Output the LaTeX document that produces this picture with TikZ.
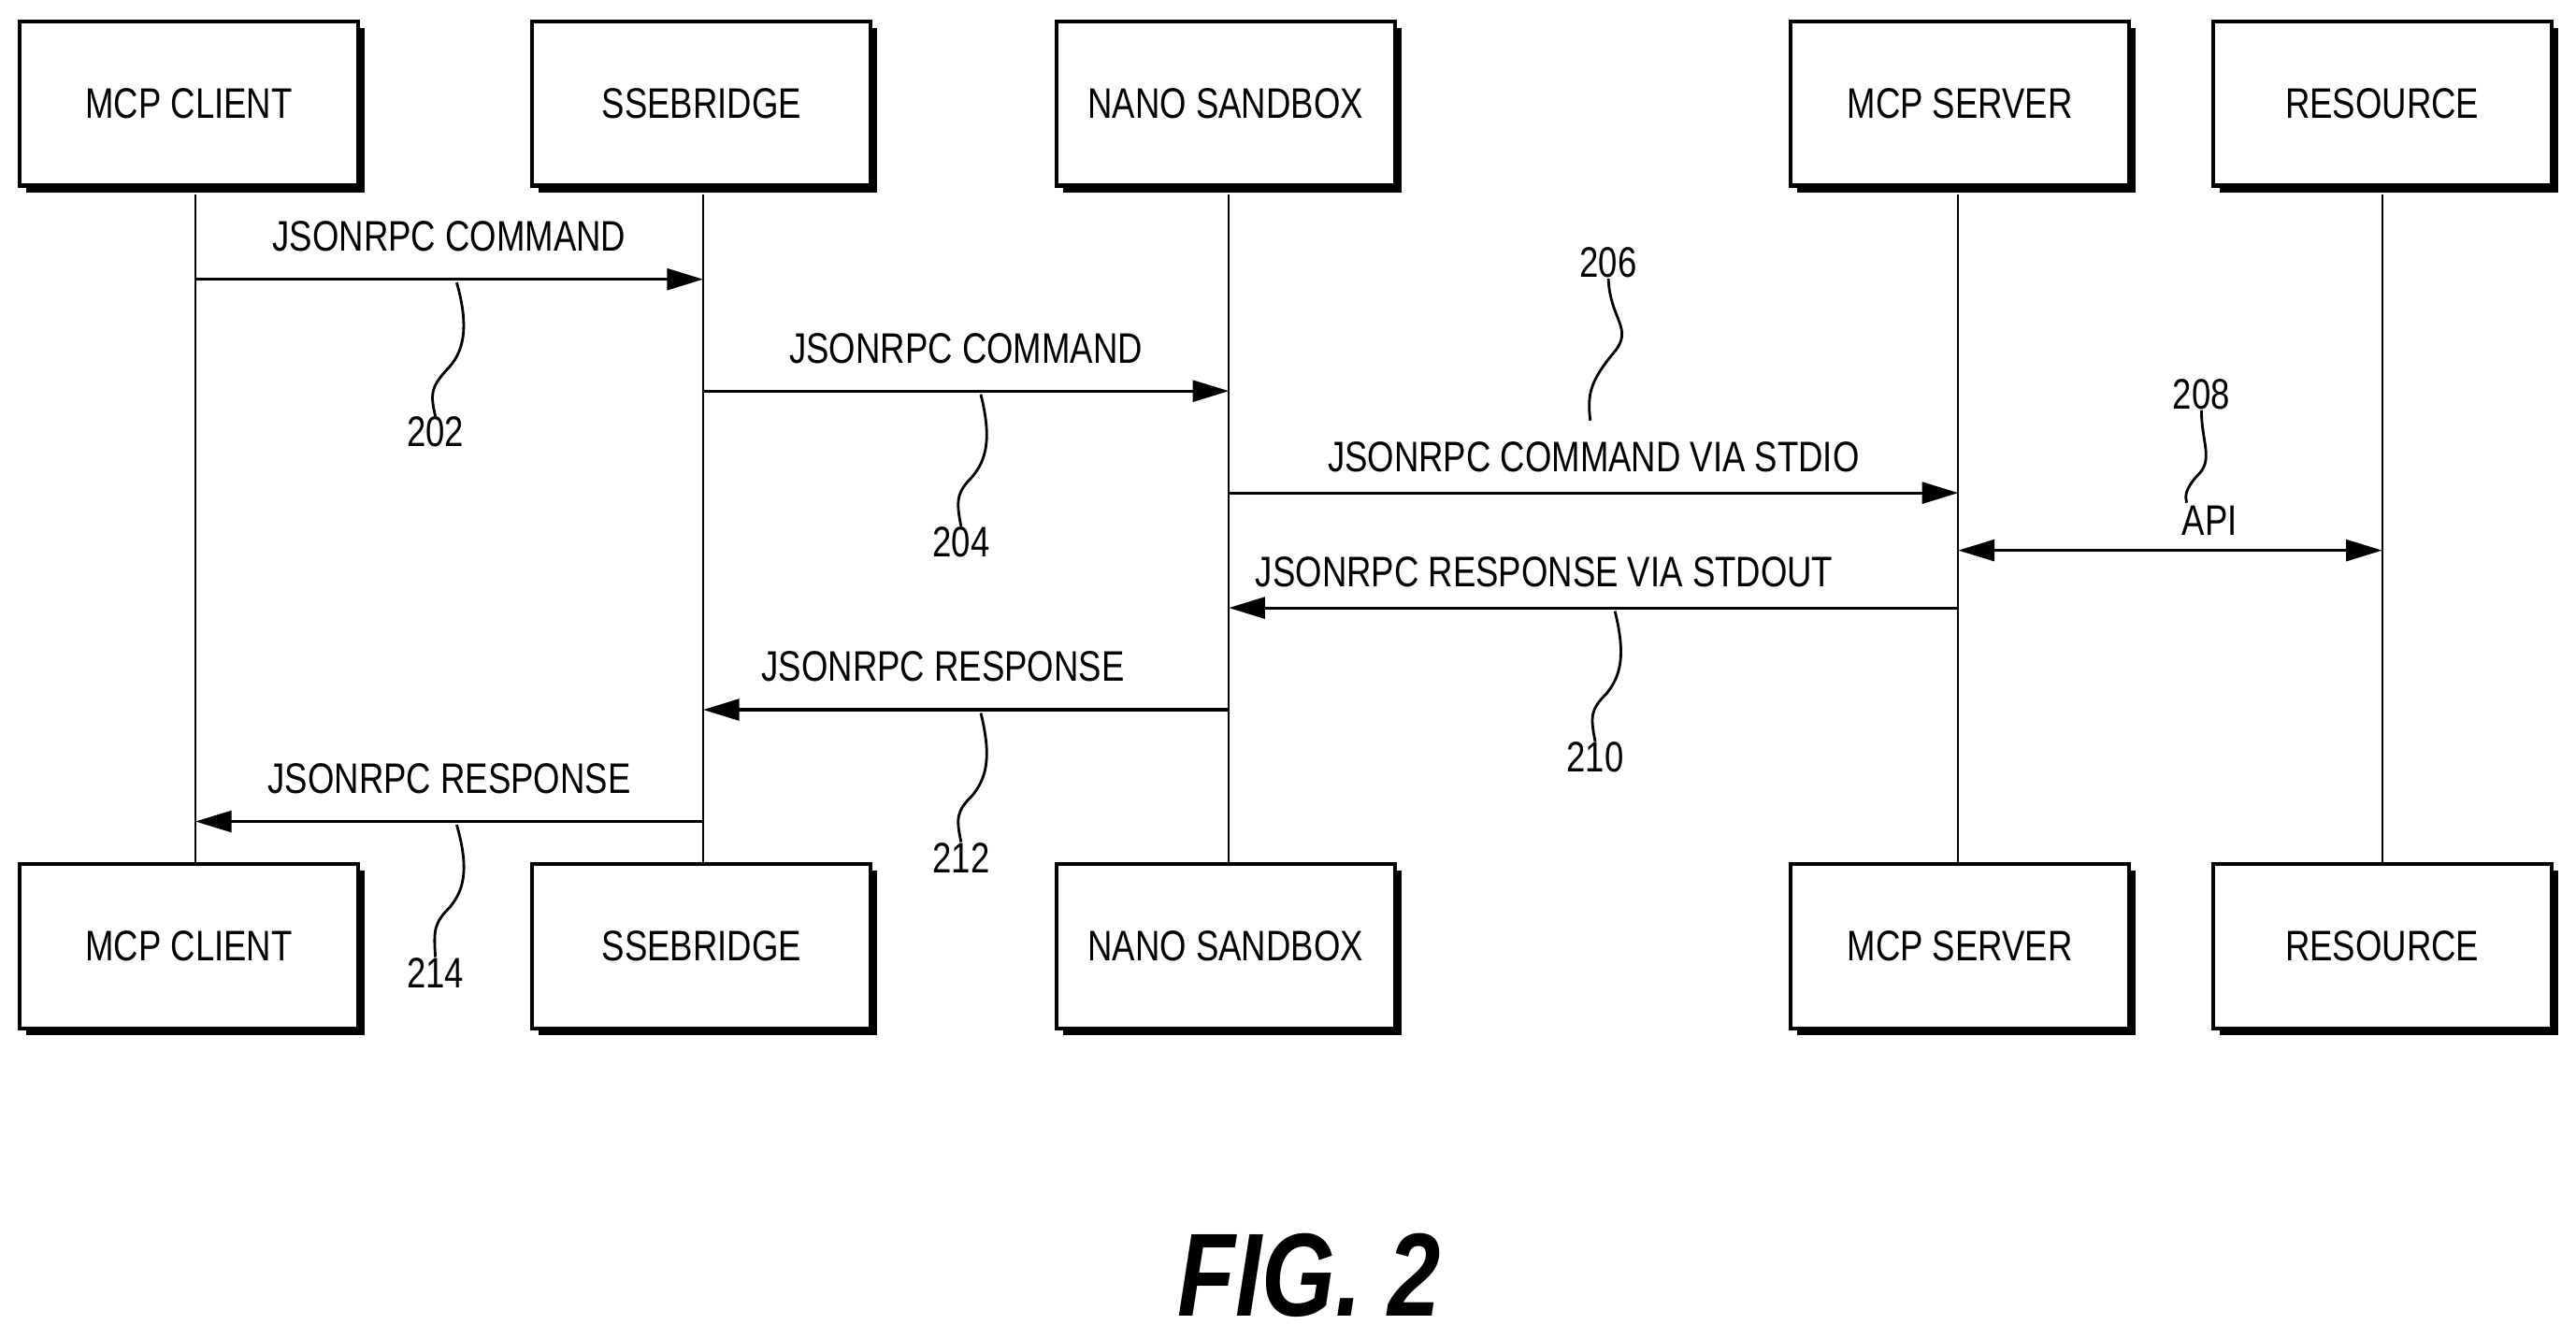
\documentclass[tikz,border=0pt]{standalone}
\usepackage{fontspec}
\setmainfont{Liberation Sans}[FakeStretch=0.8]
\usetikzlibrary{arrows.meta}
\begin{document}
\begin{tikzpicture}[x=0.5pt,y=-0.5pt,
  box/.style={draw,line width=1.2pt,fill=white,minimum width=103pt,minimum height=50pt,inner sep=0pt,font=\fontsize{13}{15}\selectfont},
  life/.style={line width=0.6pt},
  msg/.style={line width=0.9pt,-{Triangle[length=11pt,width=6.5pt]}},
  lbl/.style={font=\fontsize{13}{15}\selectfont,inner sep=0pt},
  sq/.style={line width=0.8pt},
  num/.style={font=\fontsize{13}{15}\selectfont,inner sep=0pt}]
\useasboundingbox (0,0) rectangle (1568,815);
% shadows + boxes
\foreach \n/\x/\t in {c/115/MCP CLIENT,s/427/SSEBRIDGE,n/746/NANO SANDBOX,m/1193/MCP SERVER,r/1450/RESOURCE}{
  \fill (\x+4,67) ++(-103,-50) rectangle ++(206,100);
  \fill (\x+4,580) ++(-103,-50) rectangle ++(206,100);
}
\node[box] (tc) at (115,63) {MCP CLIENT};
\node[box] (ts) at (427,63) {SSEBRIDGE};
\node[box] (tn) at (746,63) {NANO SANDBOX};
\node[box] (tm) at (1193,63) {MCP SERVER};
\node[box] (tr) at (1450,63) {RESOURCE};
\node[box] (bc) at (115,576) {MCP CLIENT};
\node[box] (bs) at (427,576) {SSEBRIDGE};
\node[box] (bn) at (746,576) {NANO SANDBOX};
\node[box] (bm) at (1193,576) {MCP SERVER};
\node[box] (br) at (1450,576) {RESOURCE};
\coordinate (lc) at (119,0);\coordinate (ls) at (428,0);\coordinate (ln) at (748,0);
\coordinate (lm) at (1192,0);\coordinate (lr) at (1450,0);
\foreach \a/\b/\l in {tc/bc/lc,ts/bs/ls,tn/bn/ln,tm/bm/lm,tr/br/lr}
  \draw[life] (\l |- \a.south) ++(0,4) -- (\l |- \b.north);
% messages
\draw[msg] (lc |- 0,170) -- node[lbl,above=8pt] {JSONRPC COMMAND} (ls |- 0,170);
\draw[msg] (ls |- 0,238) -- node[lbl,above=8pt] {JSONRPC COMMAND} (ln |- 0,238);
\draw[msg] (ln |- 0,300) -- node[lbl,above=6pt] {JSONRPC COMMAND VIA STDIO} (lm |- 0,300);
\draw[msg,{Triangle[length=11pt,width=6.5pt]}-{Triangle[length=11pt,width=6.5pt]}] (lm |- 0,335) -- node[lbl,above=4pt,xshift=12pt] {API} (lr |- 0,335);
\draw[msg] (lm |- 0,370) -- node[lbl,above=6pt,xshift=-15pt] {JSONRPC RESPONSE VIA STDOUT} (ln |- 0,370);
\draw[msg] (ln |- 0,432) -- node[lbl,above=8pt,xshift=-7pt] {JSONRPC RESPONSE} (ls |- 0,432);
\draw[msg] (ls |- 0,500) -- node[lbl,above=8pt] {JSONRPC RESPONSE} (lc |- 0,500);
% reference numerals
\node[num] (n202) at (265,263) {202};
\node[num] (n204) at (585,330) {204};
\node[num] (n206) at (979,160) {206};
\node[num] (n208) at (1340,240) {208};
\node[num] (n210) at (971,461) {210};
\node[num] (n212) at (585,522) {212};
\node[num] (n214) at (265,592) {214};
\draw[sq] (278,172) .. controls (286,200) and (282,215) .. (272,225) .. controls (262,236) and (262,240) .. (n202.north);
\draw[sq] (597,240) .. controls (604,268) and (600,280) .. (592,290) .. controls (582,300) and (582,305) .. (n204.north);
\draw[sq] (n206.south) .. controls (980,195) and (995,200) .. (982,215) .. controls (968,232) and (966,240) .. (968,256);
\draw[sq] (n208.south) .. controls (1340,270) and (1348,280) .. (1337,290) .. controls (1330,298) and (1330,302) .. (1331,306);
\draw[sq] (983,372) .. controls (990,400) and (986,412) .. (978,422) .. controls (968,432) and (968,436) .. (n210.north);
\draw[sq] (597,434) .. controls (604,462) and (600,474) .. (592,484) .. controls (582,494) and (582,498) .. (n212.north);
\draw[sq] (278,502) .. controls (286,530) and (282,542) .. (274,552) .. controls (264,562) and (264,566) .. (n214.north);
\node[font=\fontsize{36}{40}\selectfont\bfseries\itshape,inner sep=0pt] (fig) at (797,776) {FIG. 2};
\end{tikzpicture}
\end{document}
